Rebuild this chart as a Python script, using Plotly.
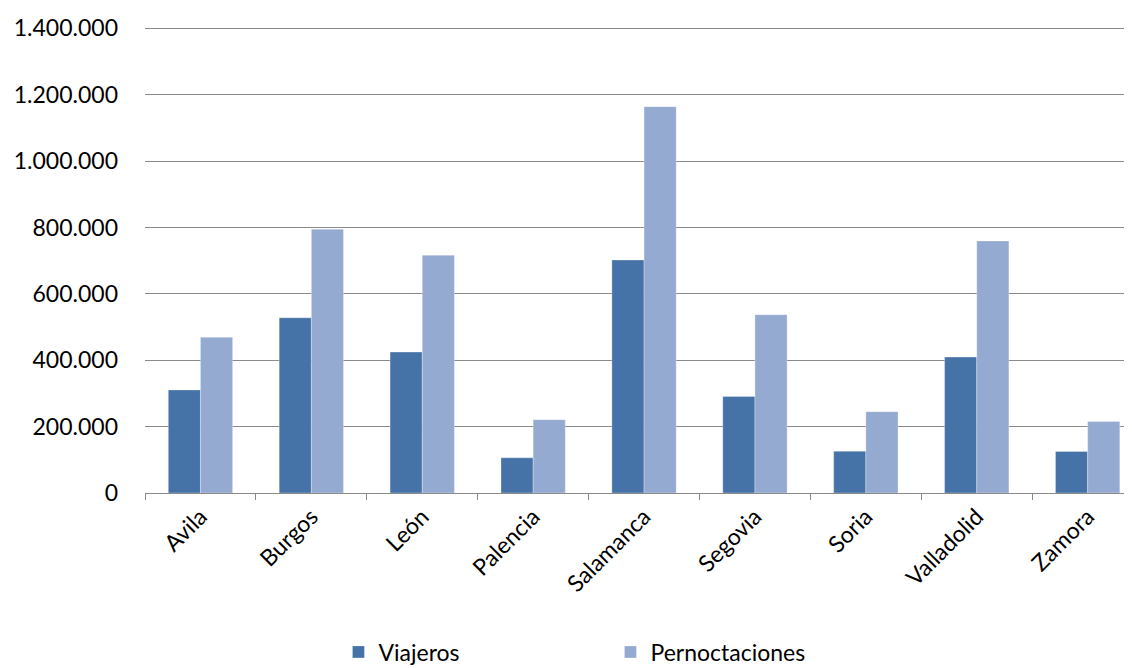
import plotly.graph_objects as go

provincias = ["Avila", "Burgos", "León", "Palencia", "Salamanca", "Segovia", "Soria", "Valladolid", "Zamora"]
viajeros = [310500, 528000, 424500, 106000, 702000, 291000, 126000, 409500, 125000]
pernoctaciones = [469000, 795000, 716500, 221000, 1164000, 537000, 245000, 759500, 215500]
y_ticks = [0, 200000, 400000, 600000, 800000, 1000000, 1200000, 1400000]

FONT = "Lato, 'Open Sans', 'Noto Sans', sans-serif"

fig = go.Figure()
fig.add_trace(go.Bar(name="Viajeros", x=provincias, y=viajeros,
                     marker=dict(color="#4572A7", line=dict(color="rgba(255,255,255,0.5)", width=0.6))))
fig.add_trace(go.Bar(name="Pernoctaciones", x=provincias, y=pernoctaciones,
                     marker=dict(color="#95AAD1", line=dict(color="rgba(255,255,255,0.5)", width=0.6))))

fig.update_layout(
    width=1132, height=668,
    margin=dict(l=137, r=8, t=17, b=183, autoexpand=False),
    paper_bgcolor="white", plot_bgcolor="white",
    barmode="group", bargap=0.42, bargroupgap=0,
    separators=",.",
    font=dict(family=FONT, size=23, color="black"),
    showlegend=True,
    legend=dict(orientation="h", x=0.196, xanchor="left", xref="paper",
                y=0.036, yanchor="middle", yref="container",
                entrywidth=227, font=dict(size=23), traceorder="normal"),
)
fig.update_xaxes(
    type="category", range=[-0.5, 8.4], automargin=False,
    tickson="boundaries", ticks="outside", ticklen=6, tickcolor="#8a8a8a", tickwidth=1.3,
    showline=True, linecolor="#8a8a8a", linewidth=1.3,
    showgrid=False, tickangle=-45, tickfont=dict(size=23),
)
fig.update_yaxes(
    range=[0, 1410000], tickvals=y_ticks, tickformat=",", automargin=False,
    showgrid=True, gridcolor="#8a8a8a", gridwidth=1.3,
    zeroline=False, showline=False, ticks="", ticklabelstandoff=26,
    tickfont=dict(size=23),
)

fig.write_html("out.html")
